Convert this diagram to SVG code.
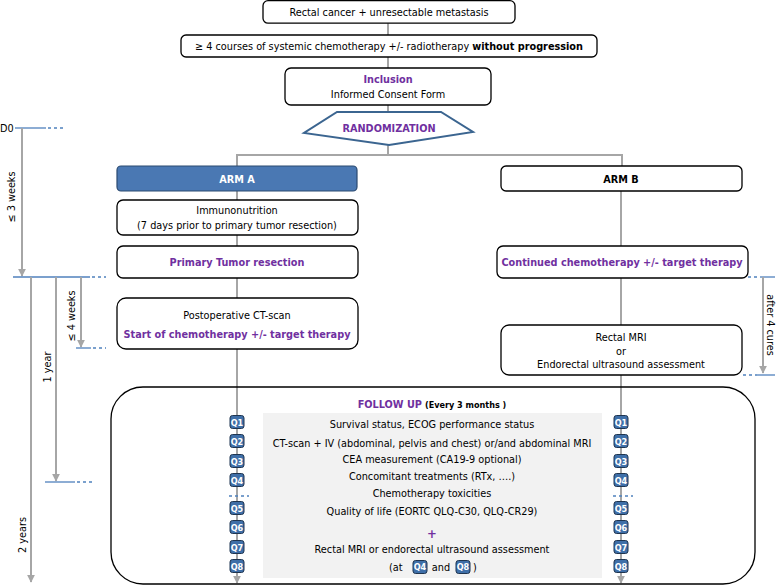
<svg xmlns="http://www.w3.org/2000/svg" width="778" height="585" viewBox="0 0 778 585">
<defs>
<marker id="ah" viewBox="0 0 10 10" refX="9" refY="5" markerWidth="4" markerHeight="4" orient="auto"><path d="M0,0 L10,5 L0,10 z" fill="#a6a6a6"/></marker>
<g id="qb"><rect x="-7" y="-6.5" width="14" height="13" rx="2.5" fill="#3f6fa8" stroke="#1f3550" stroke-width="1"/></g>
</defs>
<style>
text{font-family:"DejaVu Sans Condensed","DejaVu Sans",sans-serif;font-size:10.8px;fill:#000;text-anchor:middle}
.b{font-weight:bold}
.p{fill:#7030a0;font-weight:bold}
.box{fill:#fff;stroke:#000;stroke-width:1.3}
.ln{stroke:#a6a6a6;stroke-width:2;fill:none}
.bl{stroke:#4f81bd;stroke-width:1.3;fill:none}
.bd{stroke:#4f81bd;stroke-width:1.3;fill:none;stroke-dasharray:3,3}
.q{fill:#fff;font-size:9px;font-weight:bold}
</style>

<g id="connectors">
<line class="ln" x1="388" y1="23" x2="388" y2="35"/>
<line class="ln" x1="388" y1="57" x2="388" y2="68"/>
<line class="ln" x1="388" y1="105" x2="388" y2="113"/>
<line class="ln" x1="388" y1="145" x2="388" y2="155"/>
<polyline class="ln" points="237,166 237,155 622,155 622,166"/>
<line class="ln" x1="237" y1="191" x2="237" y2="200"/>
<line class="ln" x1="237" y1="235" x2="237" y2="246"/>
<line class="ln" x1="237" y1="278" x2="237" y2="298"/>
<line class="ln" x1="237" y1="349" x2="237" y2="583" marker-end="url(#ah)"/>
<line class="ln" x1="621" y1="191" x2="621" y2="246"/>
<line class="ln" x1="621" y1="278" x2="621" y2="325"/>
<line class="ln" x1="621" y1="375" x2="621" y2="583" marker-end="url(#ah)"/>
</g>

<g id="timeline-left">
<text x="0" y="132" style="text-anchor:start">D0</text>
<line class="bl" x1="15" y1="128" x2="46" y2="128"/>
<line class="bd" x1="48" y1="128" x2="64" y2="128"/>
<line class="ln" x1="22" y1="128" x2="22" y2="276" marker-end="url(#ah)"/>
<text transform="translate(15,197) rotate(-90)">≤ 3 weeks</text>
<line class="bl" x1="13" y1="277" x2="90" y2="277"/>
<line class="bd" x1="92" y1="277" x2="106" y2="277"/>
<line class="ln" x1="31" y1="277" x2="31" y2="582" marker-end="url(#ah)"/>
<line class="ln" x1="56" y1="277" x2="56" y2="481" marker-end="url(#ah)"/>
<line class="ln" x1="81" y1="277" x2="81" y2="347" marker-end="url(#ah)"/>
<text transform="translate(75,316) rotate(-90)">≤ 4 weeks</text>
<line class="bl" x1="76" y1="348" x2="91" y2="348"/>
<line class="bd" x1="93" y1="348" x2="106" y2="348"/>
<text transform="translate(51,367) rotate(-90)">1 year</text>
<line class="bl" x1="45" y1="482" x2="75" y2="482"/>
<line class="bd" x1="77" y1="482" x2="95" y2="482"/>
<text transform="translate(26,535) rotate(-90)">2 years</text>
</g>

<g id="timeline-right">
<line class="bd" x1="748" y1="277" x2="760" y2="277"/>
<line class="bl" x1="760" y1="277" x2="775" y2="277"/>
<line class="ln" x1="763" y1="277" x2="763" y2="373" marker-end="url(#ah)"/>
<line class="bd" x1="743" y1="375" x2="757" y2="375"/>
<line class="bl" x1="757" y1="375" x2="775" y2="375"/>
<text transform="translate(767,325) rotate(90)">after 4 cures</text>
</g>

<g id="n-top">
<rect class="box" x="263" y="0.7" width="252" height="22.5" rx="5"/>
<text x="389" y="16">Rectal cancer + unresectable metastasis</text>
</g>
<g id="n-chemo">
<rect class="box" x="181" y="35" width="416" height="22" rx="5"/>
<text x="389" y="50">≥ 4 courses of systemic chemotherapy +/- radiotherapy <tspan class="b">without progression</tspan></text>
</g>
<g id="n-inclusion">
<rect class="box" x="285" y="68" width="206" height="37" rx="6"/>
<text x="388" y="83" class="p">Inclusion</text>
<text x="388" y="98">Informed Consent Form</text>
</g>
<g id="n-random">
<polygon points="337,112 441,112 473,132 389,145 304,133" fill="#fff" stroke="#3b6590" stroke-width="2"/>
<text x="389" y="132" class="p">RANDOMIZATION</text>
</g>
<g id="n-armA">
<rect x="117" y="166" width="240" height="25" rx="4" fill="#4a78b3" stroke="#2b4a70" stroke-width="1.2"/>
<text x="237" y="183" class="b" style="fill:#fff">ARM A</text>
</g>
<g id="n-armB">
<rect class="box" x="501" y="166" width="241" height="25" rx="5"/>
<text x="621" y="183" class="b">ARM B</text>
</g>
<g id="n-immuno">
<rect class="box" x="117" y="200" width="241" height="35" rx="6"/>
<text x="237" y="214">Immunonutrition</text>
<text x="237" y="229">(7 days prior to primary tumor resection)</text>
</g>
<g id="n-resection">
<rect class="box" x="117" y="246" width="241" height="32" rx="6"/>
<text x="237" y="266" class="p">Primary Tumor resection</text>
</g>
<g id="n-continued">
<rect class="box" x="497" y="246" width="251" height="32" rx="6"/>
<text x="622" y="266" class="p">Continued chemotherapy +/- target therapy</text>
</g>
<g id="n-postop">
<rect class="box" x="117" y="298" width="241" height="51" rx="9"/>
<text x="237" y="319">Postoperative CT-scan</text>
<text x="237" y="338" class="p">Start of chemotherapy +/- target therapy</text>
</g>
<g id="n-mri">
<rect class="box" x="501" y="325" width="241" height="50" rx="8"/>
<text x="621" y="341">Rectal MRI</text>
<text x="621" y="355">or</text>
<text x="621" y="368">Endorectal ultrasound assessment</text>
</g>

<g id="n-followup">
<rect x="111" y="387" width="644" height="197" rx="32" fill="none" stroke="#000" stroke-width="1.3"/>
<rect x="263" y="413" width="339" height="165" fill="#f2f2f2"/>
<text x="432" y="408"><tspan class="p">FOLLOW UP</tspan> <tspan class="b" style="font-size:9px">(Every 3 months )</tspan></text>
<text x="432" y="428">Survival status, ECOG performance status</text>
<text x="432" y="447">CT-scan + IV (abdominal, pelvis and chest) or/and abdominal MRI</text>
<text x="432" y="463">CEA measurement (CA19-9 optional)</text>
<text x="432" y="480">Concomitant treatments (RTx, ….)</text>
<text x="432" y="497">Chemotherapy toxicities</text>
<text x="432" y="515">Quality of life (EORTC QLQ-C30, QLQ-CR29)</text>
<text x="432" y="538" class="p" style="font-size:13px">+</text>
<text x="432" y="553">Rectal MRI or endorectal ultrasound assessment</text>
<text x="389" y="571" style="text-anchor:start">(at</text>
<use href="#qb" x="420" y="567"/><text x="420" y="570" class="q">Q4</text>
<text x="441" y="571">and</text>
<use href="#qb" x="463" y="567"/><text x="463" y="570" class="q">Q8</text>
<text x="475" y="571">)</text>
</g>

<g id="q-left">
<use href="#qb" x="237" y="422"/><text x="237" y="425.5" class="q">Q1</text>
<use href="#qb" x="237" y="441"/><text x="237" y="444.5" class="q">Q2</text>
<use href="#qb" x="237" y="461"/><text x="237" y="464.5" class="q">Q3</text>
<use href="#qb" x="237" y="480"/><text x="237" y="483.5" class="q">Q4</text>
<line class="bd" x1="229" y1="496" x2="249" y2="496"/>
<use href="#qb" x="237" y="508"/><text x="237" y="511.5" class="q">Q5</text>
<use href="#qb" x="237" y="527"/><text x="237" y="530.5" class="q">Q6</text>
<use href="#qb" x="237" y="547"/><text x="237" y="550.5" class="q">Q7</text>
<use href="#qb" x="237" y="566"/><text x="237" y="569.5" class="q">Q8</text>
</g>
<g id="q-right">
<use href="#qb" x="621" y="422"/><text x="621" y="425.5" class="q">Q1</text>
<use href="#qb" x="621" y="441"/><text x="621" y="444.5" class="q">Q2</text>
<use href="#qb" x="621" y="461"/><text x="621" y="464.5" class="q">Q3</text>
<use href="#qb" x="621" y="480"/><text x="621" y="483.5" class="q">Q4</text>
<line class="bd" x1="613" y1="496" x2="633" y2="496"/>
<use href="#qb" x="621" y="508"/><text x="621" y="511.5" class="q">Q5</text>
<use href="#qb" x="621" y="527"/><text x="621" y="530.5" class="q">Q6</text>
<use href="#qb" x="621" y="547"/><text x="621" y="550.5" class="q">Q7</text>
<use href="#qb" x="621" y="566"/><text x="621" y="569.5" class="q">Q8</text>
</g>
</svg>
